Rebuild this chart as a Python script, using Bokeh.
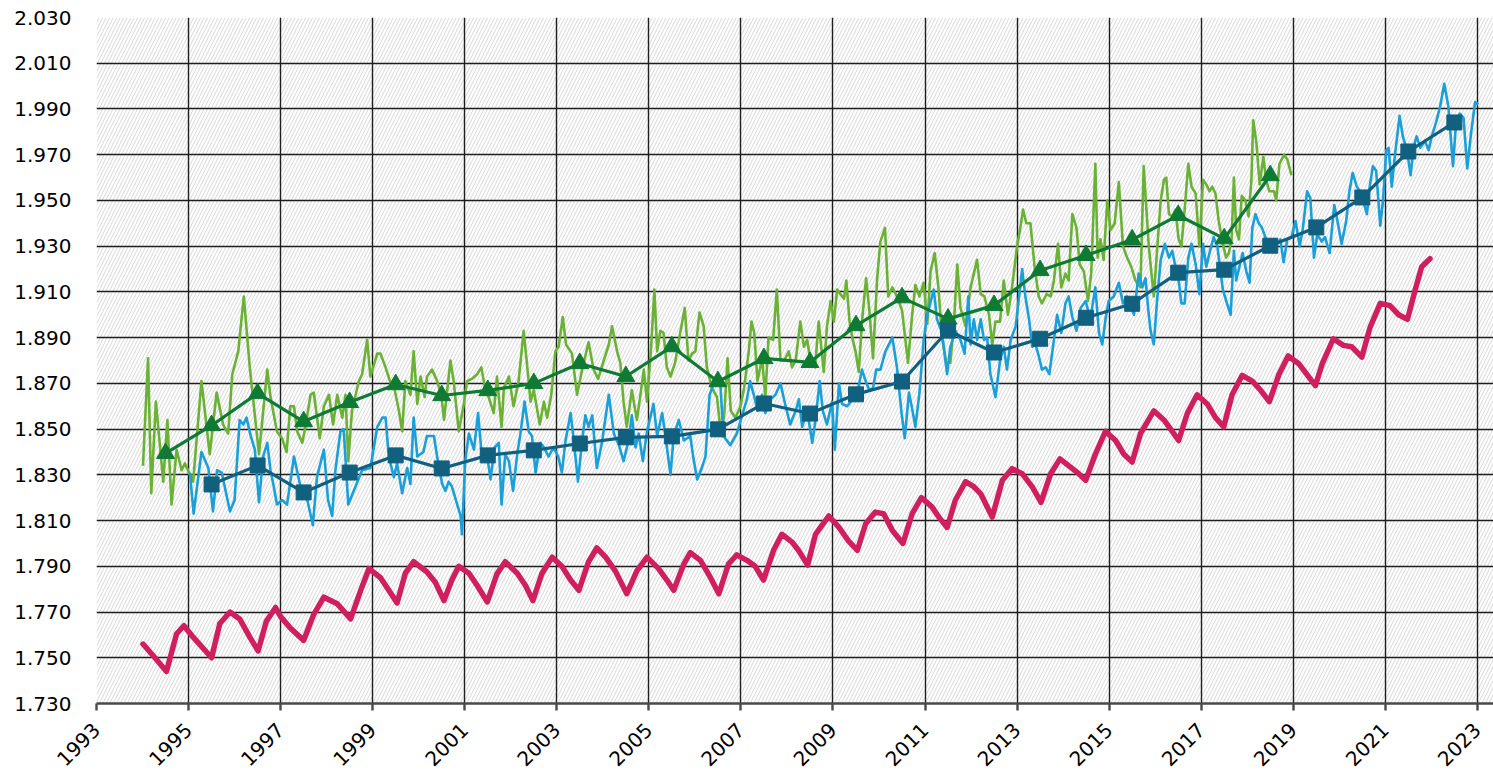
import math
from bokeh.plotting import figure
from bokeh.models import FixedTicker, Range1d, PrintfTickFormatter, BoxAnnotation
from bokeh.embed import file_html
from bokeh.resources import INLINE

# ---------------- data ----------------
x_ticks = [1993, 1995, 1997, 1999, 2001, 2003, 2005, 2007, 2009, 2011, 2013, 2015,
           2017, 2019, 2021, 2023]
y_ticks = [1.73, 1.75, 1.77, 1.79, 1.81, 1.83, 1.85, 1.87, 1.89, 1.91, 1.93, 1.95,
           1.97, 1.99, 2.01, 2.03]

green_t = [1994.01, 1994.12, 1994.19, 1994.29, 1994.45, 1994.54, 1994.63, 1994.74, 1994.85, 1994.92,
           1995.10, 1995.28, 1995.46, 1995.61, 1995.75, 1995.86, 1995.95, 1996.08, 1996.20, 1996.33,
           1996.53, 1996.71, 1996.78, 1996.92, 1997.03, 1997.13, 1997.21, 1997.29, 1997.36, 1997.47,
           1997.54, 1997.65, 1997.72, 1997.85, 1997.94, 1998.05, 1998.14, 1998.23, 1998.34, 1998.41,
           1998.47, 1998.55, 1998.70, 1998.77, 1998.88, 1998.95, 1999.10, 1999.17, 1999.28, 1999.39,
           1999.47, 1999.57, 1999.64, 1999.71, 1999.82, 1999.89, 1999.97, 2000.04, 2000.13, 2000.18,
           2000.29, 2000.40, 2000.49, 2000.55, 2000.69, 2000.76, 2000.87, 2000.98, 2001.05, 2001.16,
           2001.27, 2001.36, 2001.45, 2001.52, 2001.63, 2001.70, 2001.80, 2001.85, 2001.96, 2002.06,
           2002.17, 2002.28, 2002.35, 2002.43, 2002.50, 2002.63, 2002.72, 2002.79, 2002.88, 2002.97,
           2003.04, 2003.13, 2003.20, 2003.33, 2003.44, 2003.55, 2003.69, 2003.80, 2003.90, 2004.02,
           2004.13, 2004.20, 2004.31, 2004.38, 2004.45, 2004.52, 2004.63, 2004.74, 2004.81, 2004.89,
           2004.96, 2005.05, 2005.12, 2005.18, 2005.25, 2005.32, 2005.39, 2005.47, 2005.57, 2005.68,
           2005.78, 2005.86, 2005.94, 2006.01, 2006.10, 2006.19, 2006.26, 2006.37, 2006.48, 2006.57,
           2006.64, 2006.71, 2006.78, 2006.88, 2006.99, 2007.07, 2007.17, 2007.23, 2007.29, 2007.36,
           2007.46, 2007.53, 2007.60, 2007.70, 2007.78, 2007.86, 2007.94, 2008.04, 2008.11, 2008.19,
           2008.29, 2008.37, 2008.44, 2008.51, 2008.61, 2008.69, 2008.80, 2008.87, 2008.95, 2009.02,
           2009.09, 2009.16, 2009.24, 2009.29, 2009.36, 2009.43, 2009.49, 2009.56, 2009.63, 2009.72,
           2009.79, 2009.87, 2009.96, 2010.03, 2010.13, 2010.20, 2010.29, 2010.39, 2010.50, 2010.63,
           2010.72, 2010.79, 2010.88, 2010.97, 2011.05, 2011.12, 2011.21, 2011.29, 2011.37, 2011.46,
           2011.55, 2011.63, 2011.70, 2011.77, 2011.88, 2011.99, 2012.06, 2012.13, 2012.21, 2012.29,
           2012.39, 2012.46, 2012.53, 2012.63, 2012.71, 2012.80, 2012.89, 2013.00, 2013.07, 2013.13,
           2013.20, 2013.29, 2013.38, 2013.47, 2013.54, 2013.64, 2013.73, 2013.80, 2013.89, 2013.96,
           2014.05, 2014.12, 2014.20, 2014.29, 2014.36, 2014.45, 2014.54, 2014.61, 2014.70, 2014.75,
           2014.81, 2014.88, 2014.96, 2015.03, 2015.12, 2015.21, 2015.30, 2015.39, 2015.48, 2015.57,
           2015.68, 2015.75, 2015.86, 2015.92, 2015.97, 2016.04, 2016.12, 2016.19, 2016.24, 2016.30,
           2016.37, 2016.44, 2016.51, 2016.57, 2016.64, 2016.72, 2016.79, 2016.88, 2016.96, 2017.04,
           2017.11, 2017.18, 2017.24, 2017.31, 2017.38, 2017.47, 2017.54, 2017.60, 2017.66, 2017.71,
           2017.76, 2017.82, 2017.88, 2017.96, 2018.03, 2018.09, 2018.13, 2018.20, 2018.27, 2018.35,
           2018.41, 2018.48, 2018.58, 2018.63, 2018.70, 2018.80, 2018.87, 2018.96]
green_v = [1.834, 1.881, 1.822, 1.862, 1.827, 1.854, 1.817, 1.841, 1.832, 1.835,
           1.827, 1.871, 1.839, 1.866, 1.852, 1.848, 1.874, 1.884, 1.908, 1.877,
           1.839, 1.876, 1.864, 1.849, 1.846, 1.840, 1.860, 1.860, 1.849, 1.844,
           1.851, 1.865, 1.866, 1.846, 1.860, 1.865, 1.852, 1.865, 1.855, 1.865,
           1.836, 1.858, 1.871, 1.874, 1.889, 1.873, 1.883, 1.883, 1.877, 1.870,
           1.868, 1.858, 1.849, 1.871, 1.865, 1.884, 1.861, 1.873, 1.864, 1.873,
           1.876, 1.871, 1.865, 1.854, 1.880, 1.871, 1.849, 1.861, 1.871, 1.872,
           1.874, 1.877, 1.867, 1.864, 1.857, 1.873, 1.851, 1.868, 1.873, 1.860,
           1.871, 1.893, 1.879, 1.862, 1.867, 1.852, 1.862, 1.855, 1.865, 1.884,
           1.886, 1.899, 1.887, 1.883, 1.865, 1.876, 1.888, 1.876, 1.872, 1.880,
           1.887, 1.895, 1.884, 1.879, 1.862, 1.851, 1.867, 1.854, 1.864, 1.876,
           1.862, 1.886, 1.911, 1.884, 1.893, 1.892, 1.877, 1.873, 1.879, 1.892,
           1.903, 1.880, 1.883, 1.884, 1.901, 1.895, 1.877, 1.868, 1.864, 1.847,
           1.857, 1.881, 1.858, 1.855, 1.860, 1.868, 1.884, 1.897, 1.892, 1.871,
           1.881, 1.864, 1.890, 1.889, 1.911, 1.880, 1.880, 1.884, 1.877, 1.880,
           1.897, 1.886, 1.889, 1.880, 1.877, 1.897, 1.875, 1.895, 1.906, 1.897,
           1.911, 1.909, 1.907, 1.915, 1.897, 1.889, 1.884, 1.875, 1.897, 1.916,
           1.902, 1.881, 1.916, 1.932, 1.938, 1.908, 1.912, 1.908, 1.902, 1.879,
           1.900, 1.913, 1.908, 1.914, 1.896, 1.919, 1.927, 1.912, 1.890, 1.879,
           1.879, 1.897, 1.922, 1.903, 1.895, 1.912, 1.918, 1.924, 1.909, 1.908,
           1.900, 1.887, 1.897, 1.897, 1.915, 1.900, 1.912, 1.930, 1.938, 1.946,
           1.940, 1.940, 1.921, 1.908, 1.905, 1.909, 1.908, 1.915, 1.931, 1.912,
           1.918, 1.915, 1.944, 1.938, 1.922, 1.919, 1.906, 1.918, 1.966, 1.925,
           1.933, 1.924, 1.950, 1.937, 1.940, 1.958, 1.930, 1.925, 1.921, 1.915,
           1.912, 1.965, 1.930, 1.918, 1.908, 1.928, 1.950, 1.959, 1.960, 1.944,
           1.943, 1.946, 1.933, 1.930, 1.946, 1.966, 1.956, 1.953, 1.930, 1.959,
           1.957, 1.954, 1.956, 1.953, 1.941, 1.931, 1.925, 1.927, 1.933, 1.960,
           1.937, 1.933, 1.952, 1.950, 1.943, 1.959, 1.985, 1.975, 1.957, 1.969,
           1.959, 1.954, 1.954, 1.950, 1.966, 1.970, 1.968, 1.961]

blue_t = [1995.03, 1995.11, 1995.28, 1995.43, 1995.53, 1995.62, 1995.72, 1995.90, 1996.00, 1996.11,
          1996.19, 1996.26, 1996.35, 1996.44, 1996.53, 1996.62, 1996.71, 1996.78, 1996.85, 1996.92,
          1997.03, 1997.14, 1997.29, 1997.43, 1997.58, 1997.70, 1997.79, 1997.94, 1998.03, 1998.12,
          1998.19, 1998.30, 1998.37, 1998.47, 1998.63, 1998.77, 1998.95, 1999.10, 1999.21, 1999.28,
          1999.35, 1999.46, 1999.53, 1999.64, 1999.75, 1999.82, 1999.89, 1999.97, 2000.10, 2000.18,
          2000.26, 2000.33, 2000.40, 2000.51, 2000.58, 2000.65, 2000.72, 2000.91, 2000.94, 2001.01,
          2001.09, 2001.20, 2001.29, 2001.38, 2001.49, 2001.56, 2001.65, 2001.74, 2001.80, 2001.88,
          2001.96, 2002.05, 2002.14, 2002.21, 2002.30, 2002.39, 2002.46, 2002.54, 2002.64, 2002.72,
          2002.82, 2002.93, 2003.03, 2003.11, 2003.19, 2003.30, 2003.37, 2003.46, 2003.55, 2003.62,
          2003.69, 2003.77, 2003.87, 2003.98, 2004.13, 2004.24, 2004.35, 2004.45, 2004.56, 2004.63,
          2004.71, 2004.78, 2004.87, 2004.96, 2005.10, 2005.18, 2005.29, 2005.36, 2005.47, 2005.54,
          2005.65, 2005.76, 2005.90, 2005.97, 2006.05, 2006.15, 2006.23, 2006.32, 2006.41, 2006.48,
          2006.55, 2006.62, 2006.77, 2006.91, 2007.04, 2007.13, 2007.20, 2007.28, 2007.36, 2007.46,
          2007.53, 2007.64, 2007.75, 2007.86, 2007.96, 2008.07, 2008.19, 2008.26, 2008.33, 2008.44,
          2008.55, 2008.62, 2008.71, 2008.78, 2008.87, 2008.98, 2009.04, 2009.13, 2009.20, 2009.31,
          2009.42, 2009.55, 2009.63, 2009.71, 2009.79, 2009.87, 2009.94, 2010.03, 2010.14, 2010.29,
          2010.39, 2010.49, 2010.56, 2010.65, 2010.71, 2010.79, 2010.88, 2010.97, 2011.05, 2011.19,
          2011.26, 2011.37, 2011.48, 2011.55, 2011.66, 2011.77, 2011.86, 2011.94, 2011.99, 2012.06,
          2012.13, 2012.21, 2012.28, 2012.35, 2012.42, 2012.53, 2012.63, 2012.71, 2012.78, 2012.86,
          2012.97, 2013.06, 2013.11, 2013.18, 2013.26, 2013.33, 2013.40, 2013.47, 2013.54, 2013.62,
          2013.70, 2013.80, 2013.87, 2013.96, 2014.05, 2014.12, 2014.20, 2014.29, 2014.38, 2014.49,
          2014.59, 2014.70, 2014.78, 2014.85, 2014.92, 2014.99, 2015.10, 2015.21, 2015.30, 2015.39,
          2015.54, 2015.64, 2015.72, 2015.79, 2015.85, 2015.90, 2015.97, 2016.04, 2016.12, 2016.21,
          2016.30, 2016.37, 2016.44, 2016.51, 2016.57, 2016.64, 2016.72, 2016.79, 2016.88, 2016.96,
          2017.04, 2017.11, 2017.18, 2017.27, 2017.35, 2017.42, 2017.47, 2017.56, 2017.64, 2017.71,
          2017.76, 2017.83, 2017.90, 2017.98, 2018.05, 2018.11, 2018.18, 2018.25, 2018.32, 2018.41,
          2018.48, 2018.58, 2018.65, 2018.72, 2018.79, 2018.87, 2018.96, 2019.05, 2019.14, 2019.21,
          2019.30, 2019.37, 2019.45, 2019.52, 2019.59, 2019.62, 2019.69, 2019.79, 2019.89, 2019.96,
          2020.05, 2020.15, 2020.22, 2020.29, 2020.38, 2020.45, 2020.53, 2020.60, 2020.66, 2020.73,
          2020.80, 2020.89, 2020.95, 2021.02, 2021.07, 2021.14, 2021.21, 2021.31, 2021.38, 2021.47,
          2021.55, 2021.61, 2021.68, 2021.76, 2021.86, 2021.94, 2022.01, 2022.10, 2022.19, 2022.28,
          2022.37, 2022.47, 2022.54, 2022.62, 2022.70, 2022.78, 2022.86, 2022.95, 2023.02]
blue_v = [1.831, 1.813, 1.840, 1.833, 1.814, 1.832, 1.831, 1.814, 1.819, 1.854,
          1.852, 1.855, 1.847, 1.841, 1.818, 1.838, 1.844, 1.832, 1.825, 1.817,
          1.819, 1.817, 1.838, 1.825, 1.819, 1.808, 1.829, 1.841, 1.819, 1.812,
          1.832, 1.849, 1.850, 1.817, 1.825, 1.832, 1.833, 1.851, 1.855, 1.855,
          1.838, 1.829, 1.835, 1.822, 1.833, 1.826, 1.855, 1.838, 1.840, 1.847,
          1.847, 1.847, 1.838, 1.826, 1.823, 1.827, 1.825, 1.812, 1.804, 1.836,
          1.848, 1.841, 1.857, 1.836, 1.838, 1.828, 1.842, 1.844, 1.817, 1.839,
          1.836, 1.823, 1.839, 1.848, 1.862, 1.849, 1.847, 1.831, 1.844, 1.842,
          1.838, 1.842, 1.838, 1.831, 1.845, 1.857, 1.845, 1.827, 1.845, 1.856,
          1.851, 1.856, 1.833, 1.844, 1.865, 1.848, 1.843, 1.836, 1.845, 1.856,
          1.842, 1.848, 1.836, 1.849, 1.861, 1.847, 1.857, 1.847, 1.830, 1.847,
          1.854, 1.845, 1.847, 1.837, 1.828, 1.833, 1.838, 1.865, 1.870, 1.873,
          1.871, 1.847, 1.843, 1.848, 1.857, 1.863, 1.871, 1.865, 1.858, 1.865,
          1.857, 1.863, 1.865, 1.870, 1.861, 1.852, 1.858, 1.863, 1.851, 1.858,
          1.844, 1.854, 1.871, 1.858, 1.852, 1.862, 1.841, 1.870, 1.861, 1.860,
          1.863, 1.868, 1.876, 1.871, 1.867, 1.868, 1.876, 1.876, 1.884, 1.890,
          1.877, 1.857, 1.846, 1.866, 1.860, 1.851, 1.866, 1.889, 1.900, 1.911,
          1.898, 1.892, 1.874, 1.886, 1.893, 1.889, 1.883, 1.908, 1.887, 1.898,
          1.889, 1.898, 1.889, 1.890, 1.874, 1.864, 1.880, 1.886, 1.876, 1.889,
          1.895, 1.911, 1.920, 1.908, 1.898, 1.886, 1.887, 1.882, 1.876, 1.877,
          1.874, 1.889, 1.900, 1.892, 1.905, 1.908, 1.899, 1.893, 1.903, 1.906,
          1.898, 1.912, 1.892, 1.887, 1.898, 1.906, 1.908, 1.914, 1.905, 1.908,
          1.900, 1.918, 1.912, 1.916, 1.902, 1.893, 1.887, 1.906, 1.924, 1.931,
          1.925, 1.928, 1.921, 1.915, 1.905, 1.905, 1.925, 1.931, 1.922, 1.909,
          1.931, 1.921, 1.927, 1.934, 1.930, 1.919, 1.911, 1.905, 1.900, 1.928,
          1.915, 1.921, 1.927, 1.919, 1.914, 1.938, 1.944, 1.940, 1.938, 1.933,
          1.928, 1.933, 1.931, 1.933, 1.923, 1.933, 1.934, 1.941, 1.930, 1.938,
          1.954, 1.951, 1.925, 1.935, 1.933, 1.932, 1.934, 1.927, 1.948, 1.941,
          1.931, 1.941, 1.954, 1.962, 1.956, 1.954, 1.949, 1.944, 1.956, 1.965,
          1.963, 1.939, 1.950, 1.972, 1.973, 1.956, 1.970, 1.987, 1.978, 1.972,
          1.961, 1.973, 1.978, 1.973, 1.976, 1.972, 1.978, 1.984, 1.991, 2.001,
          1.991, 1.965, 1.985, 1.988, 1.986, 1.964, 1.979, 1.993, 1.992]

pink_t = [1994.01, 1994.27, 1994.52, 1994.74, 1994.90, 1995.10, 1995.50, 1995.68, 1995.90, 1996.11,
          1996.33, 1996.51, 1996.69, 1996.89, 1997.00, 1997.21, 1997.50, 1997.72, 1997.94, 1998.23,
          1998.52, 1998.74, 1998.92, 1999.17, 1999.35, 1999.53, 1999.71, 1999.89, 2000.18, 2000.36,
          2000.55, 2000.72, 2000.87, 2001.09, 2001.27, 2001.49, 2001.70, 2001.88, 2002.14, 2002.32,
          2002.48, 2002.68, 2002.90, 2003.11, 2003.30, 2003.48, 2003.69, 2003.87, 2004.06, 2004.27,
          2004.52, 2004.74, 2004.96, 2005.21, 2005.39, 2005.54, 2005.76, 2005.90, 2006.12, 2006.34,
          2006.52, 2006.73, 2006.91, 2007.13, 2007.31, 2007.49, 2007.71, 2007.89, 2008.11, 2008.25,
          2008.45, 2008.62, 2008.91, 2009.13, 2009.34, 2009.53, 2009.71, 2009.92, 2010.10, 2010.29,
          2010.52, 2010.72, 2010.92, 2011.15, 2011.30, 2011.48, 2011.66, 2011.88, 2012.05, 2012.21,
          2012.46, 2012.68, 2012.89, 2013.11, 2013.33, 2013.52, 2013.73, 2013.93, 2014.16, 2014.34,
          2014.49, 2014.70, 2014.92, 2015.14, 2015.32, 2015.50, 2015.68, 2015.97, 2016.19, 2016.37,
          2016.51, 2016.70, 2016.91, 2017.13, 2017.31, 2017.49, 2017.67, 2017.89, 2018.11, 2018.29,
          2018.48, 2018.69, 2018.89, 2019.12, 2019.34, 2019.48, 2019.63, 2019.87, 2020.09, 2020.27,
          2020.49, 2020.67, 2020.89, 2021.10, 2021.29, 2021.48, 2021.65, 2021.79, 2021.97]
pink_v = [1.756, 1.750, 1.744, 1.7605, 1.764, 1.759, 1.750, 1.765, 1.770, 1.767,
          1.759, 1.753, 1.766, 1.772, 1.768, 1.763, 1.7576, 1.769, 1.7765, 1.7736,
          1.767, 1.7795, 1.789, 1.785, 1.7795, 1.774, 1.787, 1.792, 1.7875, 1.783,
          1.775, 1.784, 1.790, 1.787, 1.7816, 1.7744, 1.7867, 1.792, 1.787, 1.7816,
          1.775, 1.787, 1.794, 1.790, 1.784, 1.7795, 1.792, 1.798, 1.794, 1.788,
          1.778, 1.788, 1.794, 1.789, 1.784, 1.7795, 1.791, 1.796, 1.7926, 1.785,
          1.778, 1.791, 1.795, 1.7926, 1.790, 1.784, 1.797, 1.804, 1.8006, 1.797,
          1.7905, 1.804, 1.812, 1.807, 1.801, 1.797, 1.8086, 1.8137, 1.813, 1.8057,
          1.800, 1.813, 1.820, 1.816, 1.8115, 1.807, 1.819, 1.827, 1.825, 1.8217,
          1.8115, 1.8276, 1.8327, 1.8305, 1.8247, 1.818, 1.8305, 1.837, 1.8334, 1.8305,
          1.8276, 1.839, 1.849, 1.845, 1.839, 1.8356, 1.848, 1.858, 1.854, 1.849,
          1.845, 1.857, 1.865, 1.861, 1.855, 1.851, 1.865, 1.8735, 1.871, 1.867,
          1.862, 1.874, 1.882, 1.8786, 1.8727, 1.869, 1.8786, 1.8895, 1.8866, 1.886,
          1.8815, 1.8946, 1.905, 1.904, 1.900, 1.898, 1.911, 1.921, 1.9245]

green_ann_t = [1994.5, 1995.5, 1996.5, 1997.5, 1998.5, 1999.5, 2000.5, 2001.5, 2002.5, 2003.5,
               2004.5, 2005.5, 2006.5, 2007.5, 2008.5, 2009.5, 2010.5, 2011.5, 2012.5, 2013.5,
               2014.5, 2015.5, 2016.5, 2017.5, 2018.5]
green_ann_v = [1.8394, 1.8516, 1.8656, 1.8533, 1.8617, 1.8695, 1.8647, 1.8669, 1.8700, 1.8787,
               1.8730, 1.8861, 1.8708, 1.8809, 1.8792, 1.8953, 1.9075, 1.8982, 1.9041, 1.9194,
               1.9260, 1.9328, 1.9435, 1.9333, 1.9609]

blue_ann_t = [1995.5, 1996.5, 1997.5, 1998.5, 1999.5, 2000.5, 2001.5, 2002.5, 2003.5, 2004.5,
              2005.5, 2006.5, 2007.5, 2008.5, 2009.5, 2010.5, 2011.5, 2012.5, 2013.5, 2014.5,
              2015.5, 2016.5, 2017.5, 2018.5, 2019.5, 2020.5, 2021.5, 2022.5]
blue_ann_v = [1.8258, 1.8341, 1.8223, 1.8310, 1.8385, 1.8328, 1.8385, 1.8407, 1.8437, 1.8464,
              1.8468, 1.8499, 1.8612, 1.8568, 1.8652, 1.8708, 1.8931, 1.8835, 1.8895, 1.8987,
              1.9048, 1.9184, 1.9197, 1.9302, 1.9382, 1.9513, 1.9714, 1.9841]

x_start, x_end = 1993, 2023.35
y_start, y_end = 1.73, 2.03

# ---------------- figure ----------------
FONT = "DejaVu Sans"
p = figure(width=1493, height=775, output_backend="svg", toolbar_location=None,
           x_range=Range1d(x_start, x_end), y_range=Range1d(y_start, y_end),
           min_border_left=96, min_border_right=0, min_border_top=17, min_border_bottom=0)
p.outline_line_color = None
p.background_fill_color = "white"
p.border_fill_color = "white"

hatch = BoxAnnotation(fill_color="white", fill_alpha=1.0, line_color=None,
                      hatch_pattern="/", hatch_color="#d2d2d2", hatch_scale=7,
                      hatch_weight=0.9, level="image")
p.add_layout(hatch)

for g, ticks in ((p.xgrid, x_ticks), (p.ygrid, y_ticks)):
    g.ticker = FixedTicker(ticks=ticks)
    g.grid_line_color = "#1e1e1e"
    g.grid_line_width = 1.4
    g.grid_line_alpha = 1.0

xa = p.xaxis[0]
xa.ticker = FixedTicker(ticks=x_ticks)
xa.major_label_orientation = math.pi / 4
xa.axis_line_color = "#4a4a4a"
xa.axis_line_width = 2.4
xa.major_tick_line_color = "#4a4a4a"
xa.major_tick_line_width = 2.4
xa.major_tick_out = 7
xa.major_tick_in = 0
xa.minor_tick_line_color = None
xa.major_label_text_font = FONT
xa.major_label_text_font_size = "20px"
xa.major_label_text_color = "#000000"
xa.major_label_standoff = 16

ya = p.yaxis[0]
ya.ticker = FixedTicker(ticks=y_ticks)
ya.formatter = PrintfTickFormatter(format="%.3f")
ya.axis_line_color = None
ya.major_tick_line_color = None
ya.minor_tick_line_color = None
ya.major_tick_out = 0
ya.major_tick_in = 0
ya.major_label_standoff = 25
ya.major_label_text_font = FONT
ya.major_label_text_font_size = "20px"
ya.major_label_text_color = "#000000"

# monthly series
p.line(green_t, green_v, line_color="#6AB135", line_width=2.6, line_join="round")
p.line(blue_t, blue_v, line_color="#1B9FD9", line_width=2.6, line_join="round")

# annual means
p.line(green_ann_t, green_ann_v, line_color="#0E7A34", line_width=3.2, line_join="round")
p.scatter(green_ann_t, green_ann_v, marker="triangle", size=18,
          fill_color="#0E7A34", line_color="#0E7A34")
p.line(blue_ann_t, blue_ann_v, line_color="#11607F", line_width=3.2, line_join="round")
p.scatter(blue_ann_t, blue_ann_v, marker="square", size=15,
          fill_color="#11607F", line_color="#11607F")

# smooth series
p.line(pink_t, pink_v, line_color="#D01F5F", line_width=5.5, line_join="round",
       line_cap="round")

open("out.html", "w").write(file_html(p, INLINE))
